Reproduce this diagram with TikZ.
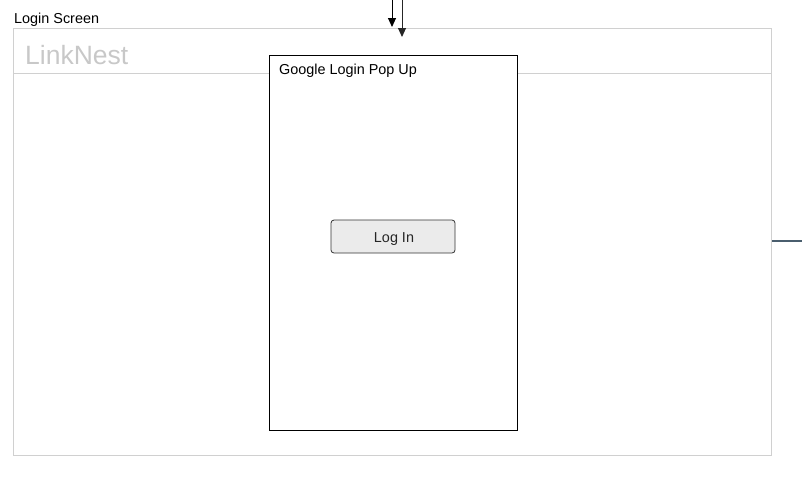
\documentclass[tikz,border=0pt]{standalone}
\usepackage{fontspec}
\setmainfont{Liberation Sans}
\usetikzlibrary{arrows.meta}
\definecolor{framegray}{HTML}{D0D0D0}
\definecolor{titlegray}{HTML}{C8C8C8}
\definecolor{btnfill}{HTML}{EBEBEB}
\definecolor{btnedge}{HTML}{333333}
\definecolor{slate}{HTML}{4A5E6E}
\begin{document}
\begin{tikzpicture}[x=1pt,y=-1pt,
  lbl/.style={inner sep=0pt,anchor=base west,font=\fontsize{14.4}{16}\selectfont},
  arr/.style={-{Triangle[length=9pt,width=8pt]},line width=1pt}]
\useasboundingbox (0,0) rectangle (802,483);
% outer screen
\node[draw=framegray,line width=1pt,minimum width=758pt,minimum height=427pt,inner sep=0pt,anchor=north west] (screen) at (13,28) {};
\draw[framegray,line width=1pt] (13,73) -- (771,73);
\node[lbl] (screenlbl) at (14,23) {Login Screen};
\node[inner sep=0pt,anchor=base west,text=titlegray,font=\fontsize{26.5}{30}\selectfont] (brand) at (25,64) {LinkNest};
% popup
\node[draw=black,line width=1pt,fill=white,minimum width=248pt,minimum height=375pt,inner sep=0pt,anchor=north west] (popup) at (269,55) {};
\node[lbl] (popuplbl) at (279,74) {Google Login Pop Up};
% button
\node[draw=btnedge,fill=btnfill,rounded corners=3pt,line width=0.8pt,minimum width=124pt,minimum height=33pt,inner sep=0pt] (login) at (393,236.5) {};
\node[inner sep=0pt,anchor=base,text=black!85,font=\fontsize{14.4}{16}\selectfont] (loginlbl) at (394,242.5) {Log In};
% arrows
\coordinate (s1) at (392,0);
\coordinate (t1) at (392,27);
\coordinate (s2) at (402,0);
\coordinate (t2) at (402,37);
\draw[arr,black] (s1) -- (t1);
\draw[arr,black!85] (s2) -- (t2);
% right stub
\coordinate (r1) at (772,241);
\coordinate (r2) at (802,241);
\draw[slate,line width=2pt] (r1) -- (r2);
\end{tikzpicture}
\end{document}
